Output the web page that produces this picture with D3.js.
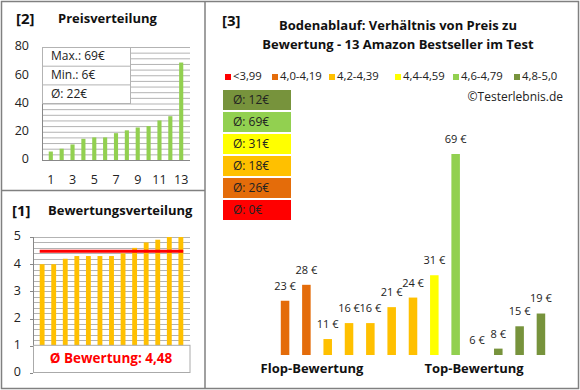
<!DOCTYPE html>
<html>
<head>
<meta charset="utf-8">
<script src="https://cdn.jsdelivr.net/npm/d3@7"></script>
<style>
  body { margin: 0; background: #fff; }
  svg { font-family: "Open Sans", "Noto Sans", sans-serif; }
</style>
</head>
<body>
<div id="chart"></div>
<script>
// prices sorted (panel 2) and ratings sorted (panel 1)
const priceSorted = [6, 8, 11, 15, 16, 16, 19, 21, 23, 24, 28, 31, 69]
const ratings = [4.0, 4.0, 4.2, 4.3, 4.3, 4.3, 4.3, 4.4, 4.6, 4.8, 4.9, 5.0, 5.0]
const ratingAvg = 4.48
const priceStats = ["Max.: 69€", "Min.: 6€", "Ø: 22€"]

// panel 3: price per product, ordered flop -> top
const products = d3.range(1, 14)
const prices = [23, 28, 11, 16, 16, 21, 24, 31, 69, 6, 8, 15, 19]
const groups = [1, 1, 2, 2, 2, 2, 2, 3, 4, 5, 5, 5, 5]

const classLabels = ["<3,99", "4,0-4,19", "4,2-4,39", "4,4-4,59", "4,6-4,79", "4,8-5,0"]
const classColors = ["#ff0000", "#e46c0a", "#ffc000", "#ffff00", "#92d050", "#77933c"]
const classAvg = ["0€", "26€", "18€", "31€", "69€", "12€"]

const W = 580, H = 390
const svg = d3.select("#chart").append("svg").attr("width", W).attr("height", H)

// frames
svg.append("rect").attr("x", 1.5).attr("y", 1.5).attr("width", 577).attr("height", 387)
  .attr("fill", "none").attr("stroke", "#808080").attr("stroke-width", 1.5)
svg.append("line").attr("x1", 205).attr("x2", 205).attr("y1", 1).attr("y2", 389)
  .attr("stroke", "#808080").attr("stroke-width", 1.5)
svg.append("line").attr("x1", 1).attr("x2", 205).attr("y1", 190.5).attr("y2", 190.5)
  .attr("stroke", "#808080").attr("stroke-width", 1.5)

function heading(x, y, txt, size) {
  svg.append("text").attr("x", x).attr("y", y).attr("dominant-baseline", "middle")
    .attr("font-weight", "bold").attr("font-size", size).attr("fill", "#111").text(txt)
}

// ---------- panel 2: Preisverteilung ----------
heading(16, 20, "[2]", 15)
heading(58, 20, "Preisverteilung", 13)

const x2 = d3.scaleBand().domain(products).range([42, 190]).padding(0.62)
const y2 = d3.scaleLinear().domain([0, 80]).range([160, 47])

svg.append("g").selectAll("line").data(d3.range(4, 81, 4)).join("line")
  .attr("x1", 42).attr("x2", 190).attr("y1", d => y2(d) + 0.5).attr("y2", d => y2(d) + 0.5)
  .attr("stroke", "#b3b3b3")

svg.append("g").selectAll("rect").data(priceSorted).join("rect")
  .attr("x", (d, i) => x2(products[i])).attr("width", x2.bandwidth())
  .attr("y", d => y2(d)).attr("height", d => y2(0) - y2(d))
  .attr("fill", "#92d050")

svg.append("line").attr("x1", 42).attr("x2", 190).attr("y1", 160.5).attr("y2", 160.5).attr("stroke", "#888")
svg.append("line").attr("x1", 42.5).attr("x2", 42.5).attr("y1", 47).attr("y2", 160).attr("stroke", "#888")

svg.append("g").selectAll("text").data(d3.range(0, 81, 20)).join("text")
  .attr("x", 29).attr("y", d => y2(d)).attr("text-anchor", "end").attr("dominant-baseline", "middle")
  .attr("font-size", 12.5).attr("fill", "#222").text(d => d)

svg.append("g").selectAll("text").data(products.filter(d => d % 2 === 1)).join("text")
  .attr("x", d => x2(d) + x2.bandwidth() / 2).attr("y", 181).attr("text-anchor", "middle")
  .attr("dominant-baseline", "middle").attr("font-size", 12.5).attr("fill", "#222").text(d => d)

// stats box
const sb = svg.append("g")
sb.append("rect").attr("x", 42.5).attr("y", 47.5).attr("width", 88).attr("height", 56)
  .attr("fill", "#fff").attr("stroke", "#b3b3b3")
sb.selectAll("line").data([1, 2]).join("line")
  .attr("x1", 42.5).attr("x2", 130.5).attr("y1", d => 47.5 + d * 18.7).attr("y2", d => 47.5 + d * 18.7)
  .attr("stroke", "#b3b3b3")
sb.selectAll("text").data(priceStats).join("text")
  .attr("x", 51).attr("y", (d, i) => 57 + i * 18.7).attr("dominant-baseline", "middle")
  .attr("font-size", 12).attr("fill", "#222").text(d => d)

// ---------- panel 1: Bewertungsverteilung ----------
heading(12, 212, "[1]", 15)
heading(48, 212, "Bewertungsverteilung", 13)

const x1 = d3.scaleBand().domain(products).range([33, 190]).padding(0.58)
const y1 = d3.scaleLinear().domain([0, 5]).range([373, 237])

svg.append("g").selectAll("line").data(d3.range(1, 5.01, 0.2)).join("line")
  .attr("x1", 33).attr("x2", 190).attr("y1", d => Math.round(y1(d)) + 0.5).attr("y2", d => Math.round(y1(d)) + 0.5)
  .attr("stroke", "#b3b3b3")

svg.append("g").selectAll("rect").data(ratings).join("rect")
  .attr("x", (d, i) => x1(products[i])).attr("width", x1.bandwidth())
  .attr("y", d => y1(d)).attr("height", d => y1(0) - y1(d))
  .attr("fill", "#ffc000")

svg.append("line").attr("x1", x1(1)).attr("x2", x1(13) + x1.bandwidth())
  .attr("y1", y1(ratingAvg)).attr("y2", y1(ratingAvg))
  .attr("stroke", "#ff0000").attr("stroke-width", 3)

svg.append("line").attr("x1", 33.5).attr("x2", 33.5).attr("y1", 237).attr("y2", 373).attr("stroke", "#888")
svg.append("g").selectAll("line").data(d3.range(0, 6)).join("line")
  .attr("x1", 30).attr("x2", 33).attr("y1", d => Math.round(y1(d)) + 0.5).attr("y2", d => Math.round(y1(d)) + 0.5)
  .attr("stroke", "#888")
svg.append("g").selectAll("text").data(d3.range(0, 6)).join("text")
  .attr("x", 21).attr("y", d => y1(d)).attr("text-anchor", "end").attr("dominant-baseline", "middle")
  .attr("font-size", 12.5).attr("fill", "#222").text(d => d)

svg.append("rect").attr("x", 33.5).attr("y", y1(1) - 0.5).attr("width", 156.5).attr("height", y1(0) - y1(1))
  .attr("fill", "#fff").attr("stroke", "#aaa")
svg.append("text").attr("x", 111).attr("y", 359).attr("text-anchor", "middle").attr("dominant-baseline", "middle")
  .attr("font-size", 13.5).attr("font-weight", "bold").attr("fill", "#ff0000")
  .text("Ø Bewertung: " + d3.format(".2f")(ratingAvg).replace(".", ","))

// ---------- panel 3 ----------
heading(222, 22, "[3]", 15)
svg.append("text").attr("x", 398).attr("y", 27).attr("text-anchor", "middle").attr("dominant-baseline", "middle")
  .attr("font-weight", "bold").attr("font-size", 13).attr("fill", "#111").text("Bodenablauf: Verhältnis von Preis zu")
svg.append("text").attr("x", 398).attr("y", 46).attr("text-anchor", "middle").attr("dominant-baseline", "middle")
  .attr("font-weight", "bold").attr("font-size", 13).attr("fill", "#111").text("Bewertung - 13 Amazon Bestseller im Test")

// legend
const legX = [225, 272, 329, 395, 453, 514]
const leg = svg.append("g").selectAll("g").data(classLabels).join("g")
  .attr("transform", (d, i) => `translate(${legX[i]},77)`)
leg.append("rect").attr("x", 0).attr("y", -3).attr("width", 6).attr("height", 6).attr("fill", (d, i) => classColors[i])
leg.append("text").attr("x", 8).attr("y", 0).attr("dominant-baseline", "middle")
  .attr("font-size", 11.3).attr("fill", "#222").text(d => d)

svg.append("text").attr("x", 563).attr("y", 98).attr("text-anchor", "end").attr("dominant-baseline", "middle")
  .attr("font-size", 12).attr("fill", "#222").text("©Testerlebnis.de")

// average boxes, top = best class
const avgOrder = d3.range(5, -1, -1)
const ab = svg.append("g").selectAll("g").data(avgOrder).join("g")
  .attr("transform", (d, i) => `translate(223,${90 + i * 22})`)
ab.append("rect").attr("width", 68).attr("height", 20).attr("fill", d => classColors[d])
ab.append("text").attr("x", 10).attr("y", 10.5).attr("dominant-baseline", "middle")
  .attr("font-size", 12).attr("fill", "#222").text(d => "Ø: " + classAvg[d])

const x3 = d3.scaleBand().domain(products).range([268, 558]).padding(0.6)
const y3 = d3.scaleLinear().domain([d3.min(prices), d3.max(prices)]).range([355, 154])

svg.append("g").selectAll("rect").data(prices).join("rect")
  .attr("x", (d, i) => x3(products[i])).attr("width", x3.bandwidth())
  .attr("y", d => y3(d)).attr("height", d => y3.range()[0] - y3(d))
  .attr("fill", (d, i) => classColors[groups[i]])

svg.append("g").selectAll("text").data(prices).join("text")
  .attr("x", (d, i) => x3(products[i]) + x3.bandwidth() / 2).attr("y", d => y3(d) - 14)
  .attr("text-anchor", "middle").attr("dominant-baseline", "middle")
  .attr("font-size", 11).attr("fill", "#222").text(d => d + " €")

svg.append("text").attr("x", 312).attr("y", 370).attr("text-anchor", "middle").attr("dominant-baseline", "middle")
  .attr("font-weight", "bold").attr("font-size", 13).attr("fill", "#111").text("Flop-Bewertung")
svg.append("text").attr("x", 474).attr("y", 370).attr("text-anchor", "middle").attr("dominant-baseline", "middle")
  .attr("font-weight", "bold").attr("font-size", 13).attr("fill", "#111").text("Top-Bewertung")
</script>
</body>
</html>
